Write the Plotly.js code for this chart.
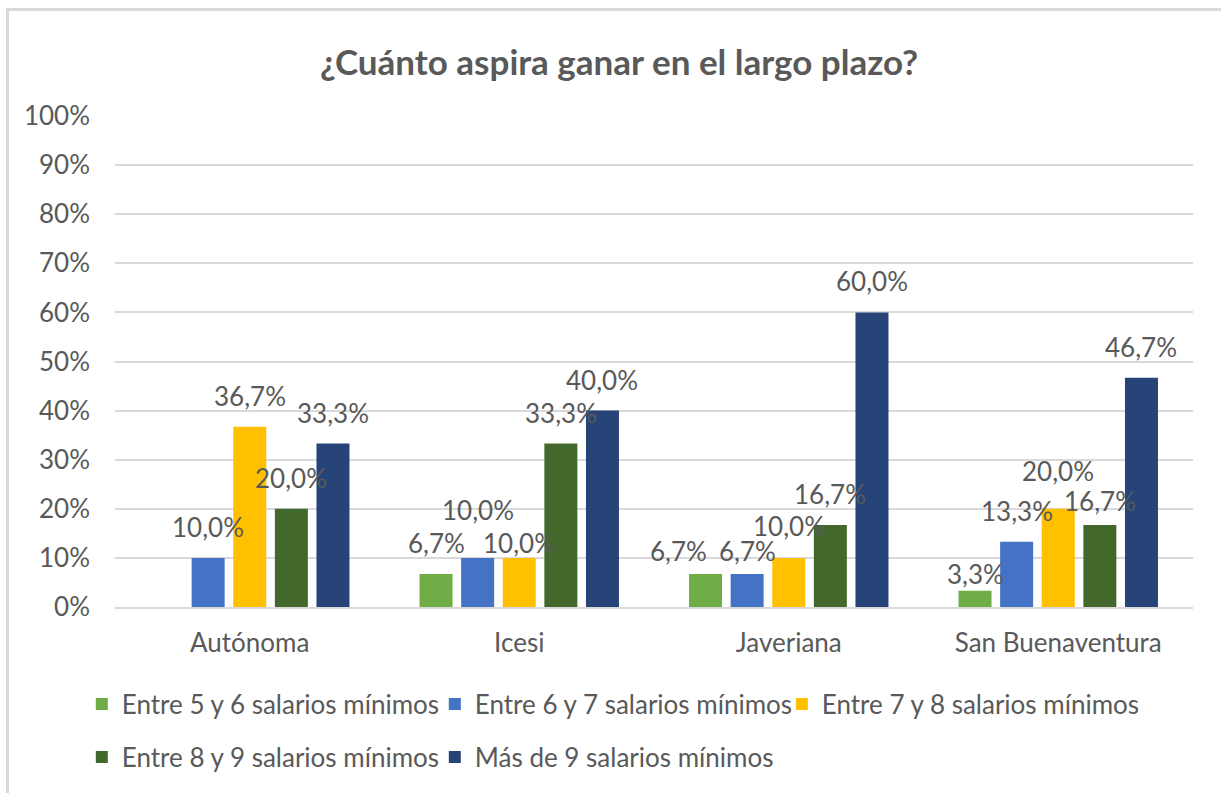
<!DOCTYPE html>
<html>
<head>
<meta charset="utf-8">
<script src="https://cdn.plot.ly/plotly-3.0.1.min.js"></script>
<style>
html,body{margin:0;padding:0;background:#fff;overflow:hidden;}
#chart{position:absolute;left:0;top:0;width:1221px;height:793px;}
#frame{position:absolute;left:6px;top:8px;width:1300px;height:900px;border:3px solid #D9D9D9;pointer-events:none;box-sizing:border-box;}
</style>
</head>
<body>
<div id="chart"></div>
<div id="frame"></div>
<script>
const categories = ["Autónoma", "Icesi", "Javeriana", "San Buenaventura"];
const seriesNames = [
  "Entre 5 y 6 salarios mínimos",
  "Entre 6 y 7 salarios mínimos",
  "Entre 7 y 8 salarios mínimos",
  "Entre 8 y 9 salarios mínimos",
  "Más de 9 salarios mínimos"
];
const entre5y6 = [null, 0.067, 0.067, 0.033];
const entre6y7 = [0.100, 0.100, 0.067, 0.133];
const entre7y8 = [0.367, 0.100, 0.100, 0.200];
const entre8y9 = [0.200, 0.333, 0.167, 0.167];
const masDe9   = [0.333, 0.400, 0.600, 0.467];
const seriesColors = ["#70AD47", "#4472C4", "#FFC000", "#43682B", "#264478"];
const yTickVals = [0,0.1,0.2,0.3,0.4,0.5,0.6,0.7,0.8,0.9,1.0];
const yTickText = ["0%","10%","20%","30%","40%","50%","60%","70%","80%","90%","100%"];

const allSeries = [entre5y6, entre6y7, entre7y8, entre8y9, masDe9];

// style only: small pixel nudges of data labels (as in the original's collision handling)
const labelNudgeY = [[0,0,-8,-14],[0,17,-8,0],[0,-16,1,7],[0,0,0,-7],[0,0,0,0]];
const labelNudgeX = [[0,0,-27,0],[0,0,0,0],[0,0,0,0],[0,0,0,0],[0,0,0,0]];

const FONT = "Lato, 'Open Sans', sans-serif";
const TXT = "#595959";
const BARGAP = 0.228;
const BARGROUPGAP = 0.207;

function fmt(v){ return (v*100).toFixed(1).replace('.', ',') + '%'; }

const legendWidths = [308, 302, 330, 308, 302];
const traces = allSeries.map((vals, j) => ({
  type: 'bar',
  name: seriesNames[j],
  x: categories,
  y: vals,
  marker: {color: seriesColors[j]},
  hoverinfo: 'skip',
  legend: j < 3 ? 'legend' : 'legend2',
  legendwidth: legendWidths[j]
}));

const nS = allSeries.length;
const slot = (1 - BARGAP) / nS;
const annotations = [];
allSeries.forEach((vals, j) => {
  vals.forEach((v, i) => {
    if (v === null) return;
    annotations.push({
      x: i - (1 - BARGAP)/2 + (j + 0.5)*slot,
      y: v,
      xref: 'x', yref: 'y',
      text: fmt(v),
      showarrow: false,
      xanchor: 'center', yanchor: 'bottom',
      yshift: 13 + labelNudgeY[j][i],
      xshift: labelNudgeX[j][i],
      font: {family: FONT, size: 26, color: TXT}
    });
  });
});

const legendCommon = {
  orientation: 'h',
  x: 0.067, xref: 'container', xanchor: 'left',
  yref: 'container', yanchor: 'middle',
  font: {family: FONT, size: 26, color: TXT},
  entrywidth: 302,
  bgcolor: 'rgba(0,0,0,0)',
  traceorder: 'normal'
};

const layout = {
  width: 1221, height: 793,
  paper_bgcolor: '#ffffff', plot_bgcolor: '#ffffff',
  margin: {l: 115, r: 28, t: 116, b: 186},
  barmode: 'group',
  bargap: BARGAP,
  bargroupgap: BARGROUPGAP,
  font: {family: FONT, color: TXT, size: 26},
  title: {
    text: '<b>¿Cuánto aspira ganar en el largo plazo?</b>',
    font: {family: FONT, size: 35, color: TXT},
    x: 0.507, xref: 'container', xanchor: 'center',
    y: 1 - 63/793, yref: 'container', yanchor: 'middle'
  },
  xaxis: {
    type: 'category',
    showgrid: false,
    showline: true, linecolor: '#D9D9D9', linewidth: 2,
    ticks: '',
    ticklabelstandoff: 12,
    tickfont: {family: FONT, size: 26, color: TXT},
    fixedrange: true
  },
  yaxis: {
    range: [0, 1],
    tickvals: yTickVals,
    ticktext: yTickText,
    showgrid: true, gridcolor: '#D9D9D9', gridwidth: 2,
    zeroline: false,
    showline: false,
    ticks: '',
    ticklabelstandoff: 24,
    tickfont: {family: FONT, size: 26, color: TXT},
    fixedrange: true
  },
  showlegend: true,
  legend: Object.assign({}, legendCommon, {y: 1 - 704/793}),
  legend2: Object.assign({}, legendCommon, {y: 1 - 757/793}),
  annotations: annotations
};

Plotly.newPlot('chart', traces, layout, {displayModeBar: false, staticPlot: true});
</script>
</body>
</html>
